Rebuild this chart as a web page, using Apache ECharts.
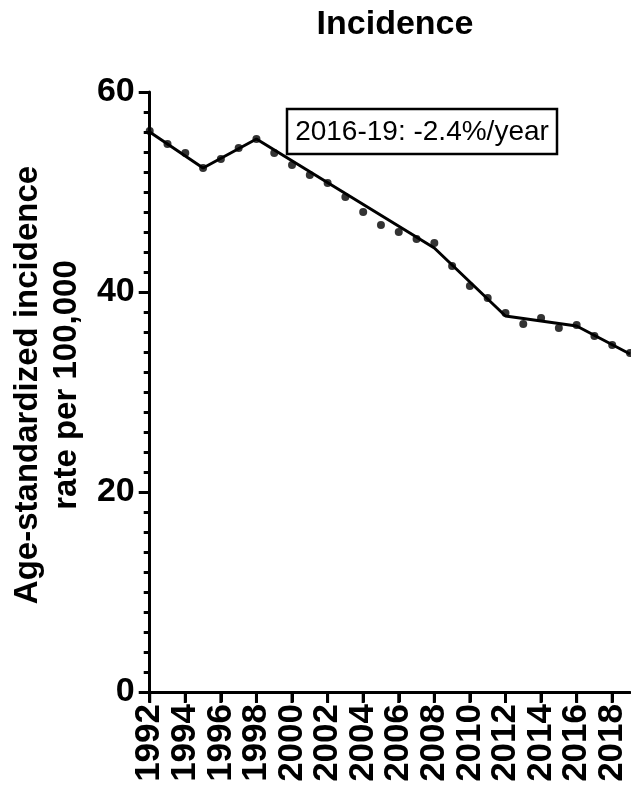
<!DOCTYPE html>
<html>
<head>
<meta charset="utf-8">
<script src="https://cdn.jsdelivr.net/npm/echarts@6/dist/echarts.min.js"></script>
<style>
html,body{margin:0;padding:0;background:#fff;}
#c{width:631px;height:794px;}
</style>
</head>
<body>
<div id="c"></div>
<script>
var years = [1992,1993,1994,1995,1996,1997,1998,1999,2000,2001,2002,2003,2004,2005,2006,2007,2008,2009,2010,2011,2012,2013,2014,2015,2016,2017,2018,2019];
var observed = [56.1,54.8,53.9,52.4,53.3,54.4,55.3,53.9,52.7,51.7,50.9,49.5,48.0,46.7,46.0,45.3,44.9,42.6,40.6,39.4,37.9,36.8,37.4,36.4,36.7,35.6,34.7,33.9];
var joinYears = [1992,1995,1998,2008,2012,2016,2019];
var joinValues = [56.0,52.4,55.3,44.4,37.6,36.6,33.8];
var xTickYears = [1992,1994,1996,1998,2000,2002,2004,2006,2008,2010,2012,2014,2016,2018];
var titleText = 'Incidence';
var yName = 'Age-standardized incidence\nrate per 100,000';
var annotation = '2016-19: -2.4%/year';

var chart = echarts.init(document.getElementById('c'), null, {renderer:'canvas'});
var font = 'Liberation Sans, Arial, Helvetica, sans-serif';
chart.setOption({
  animation:false,
  backgroundColor:'#fff',
  title:{text:titleText,left:390,top:3,textAlign:'center',
    textStyle:{fontFamily:font,fontSize:34,fontWeight:'bold',color:'#000'}},
  grid:{left:148,right:1,top:92,bottom:102,containLabel:false},
  xAxis:{type:'value',min:1992,max:2019,interval:2,
    axisLine:{show:true,lineStyle:{color:'#000',width:3}},
    axisTick:{show:true,length:10,lineStyle:{color:'#000',width:3},customValues:xTickYears},
    axisLabel:{show:true,rotate:90,margin:12,fontFamily:font,fontSize:35,fontWeight:'bold',color:'#000',customValues:xTickYears,formatter:function(v){return String(v);}},
    splitLine:{show:false}},
  yAxis:{type:'value',min:0,max:60,interval:20,
    name:yName,nameLocation:'middle',nameRotate:90,nameGap:101,
    nameTextStyle:{fontFamily:font,fontSize:33,fontWeight:'bold',color:'#000',lineHeight:39,align:'center',verticalAlign:'middle',padding:[0,0,0,14]},
    axisLine:{show:true,lineStyle:{color:'#000',width:3}},
    axisTick:{show:true,length:11,lineStyle:{color:'#000',width:3}},
    minorTick:{show:true,splitNumber:10,length:6,lineStyle:{color:'#000',width:3}},
    axisLabel:{margin:15,fontFamily:font,fontSize:34,fontWeight:'bold',color:'#000'},
    splitLine:{show:false}},
  graphic:[
    {type:'rect',shape:{x:287,y:109,width:270,height:45},style:{fill:'#fff',stroke:'#000',lineWidth:2.5},z:10},
    {type:'text',x:422,y:132,z:11,style:{text:annotation,fontFamily:font,fontSize:28,fill:'#000',align:'center',verticalAlign:'middle'}}
  ],
  series:[
    {type:'custom',clip:false,z:2,silent:true,
      data:xTickYears.map(function(y){return [y,0];}),
      encode:{x:0,y:1},
      renderItem:function(params,api){
        var p = api.coord([api.value(0),0]);
        return {type:'line',shape:{x1:p[0],y1:p[1],x2:p[0],y2:p[1]+11},style:{stroke:'#000',lineWidth:3}};
      }},
    {type:'line',data:joinYears.map(function(y,i){return [y,joinValues[i]];}),
      symbol:'none',lineStyle:{color:'#000',width:3},clip:false,z:3},
    {type:'scatter',data:years.map(function(y,i){return [y,observed[i]];}),
      symbol:'circle',symbolSize:8,itemStyle:{color:'#000'},clip:false,z:4}
  ]
});
</script>
</body>
</html>
